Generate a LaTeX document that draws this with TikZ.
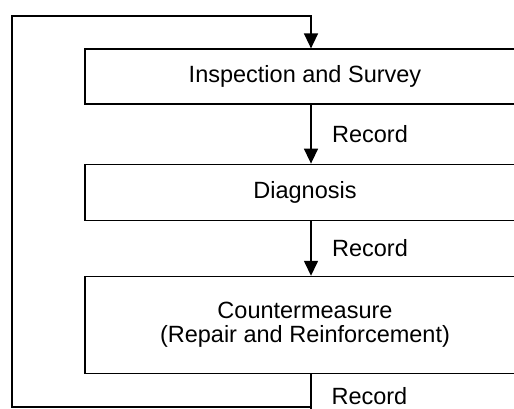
\documentclass[tikz,border=0pt]{standalone}
\usepackage{fontspec}
\setmainfont{Liberation Sans}
\usetikzlibrary{arrows.meta,positioning}

\begin{document}
\begin{tikzpicture}
            \tikzstyle{stage}=[shape=rectangle, draw=black, line width=1.2pt, minimum width=440pt, align=center, font=\fontsize{23.5}{24}\selectfont];
            \tikzstyle{flow}=[-{Triangle[length=15pt,width=14pt]}, line width=1.5pt];
            \tikzstyle{rec}=[right, xshift=17pt, font=\fontsize{23.5}{24}\selectfont];

            \useasboundingbox (0,0) rectangle (514pt,-409pt);
            \clip (0,0) rectangle (514pt,-409pt);

            \node[stage, minimum height=55pt](Insp) at (305pt,-76.5pt) {Inspection and Survey};
            \node[stage, minimum height=56pt, below=59pt of Insp](Diag) {Diagnosis};
            \node[stage, minimum height=97pt, below=55pt of Diag](Cntr) {Countermeasure\\(Repair and Reinforcement)};

            \coordinate (spine) at (311pt,0);
            \coordinate (topleft) at (12pt,-16pt);
            \coordinate (turn) at (311pt,-407pt);
            \coordinate (exit) at (311pt,-420pt);

            \draw[flow]
                (Insp.south -| spine) -- node[rec] (R1) {Record} (Diag.north -| spine);
            \draw[flow]
                (Diag.south -| spine) -- node[rec] (R2) {Record} (Cntr.north -| spine);

            \draw[line width=1.5pt] (Cntr.south -| spine) -- (exit);
            \node[rec, anchor=base west] (R3) at ([yshift=2.5pt]turn) {Record};

            \draw[flow] (turn) -| (topleft) -| (Insp.north -| spine);
        \end{tikzpicture}
\end{document}
